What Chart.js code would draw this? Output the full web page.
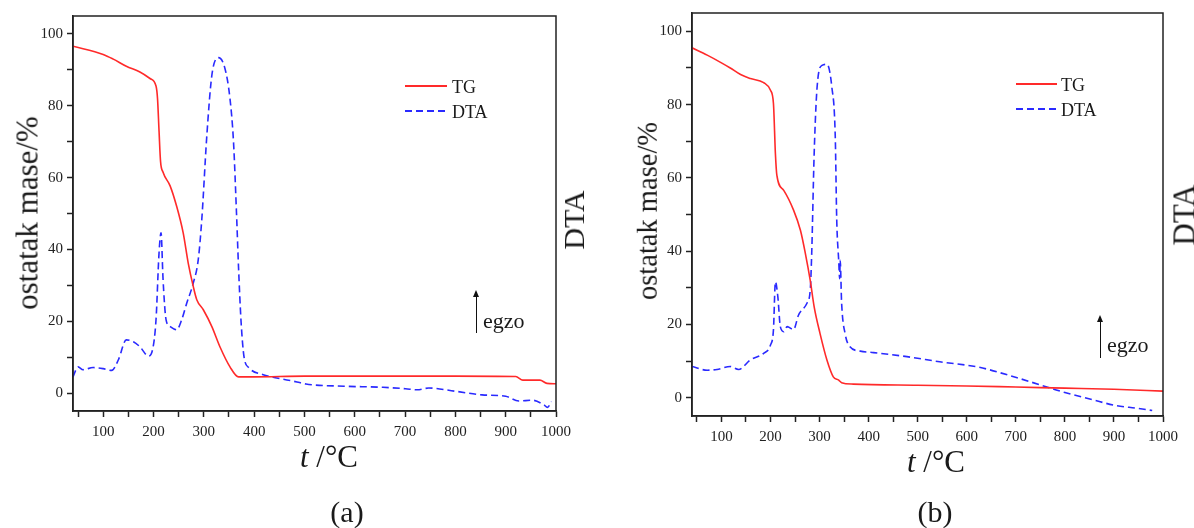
<!DOCTYPE html>
<html>
<head>
<meta charset="utf-8">
<script src="https://cdn.jsdelivr.net/npm/chart.js@4.4.0/dist/chart.umd.min.js"></script>
<style>
body { margin: 0; background: #fff; width: 1194px; height: 528px; overflow: hidden; position: relative;
       font-family: "Liberation Serif", "Times New Roman", serif; color: #1a1a1a; }
.panel { position: absolute; top: 0; height: 528px; }
.txt { position: absolute; white-space: nowrap; line-height: 1; transform: translate(-50%, -50%); }
.left { transform: translate(0, -50%); }
.rot { transform: translate(-50%, -50%) rotate(-90deg); }
.leg { position: absolute; height: 2px; }
.arrow { position: absolute; width: 0; border-left: 1.5px solid #111; }
.arrow:before { content: ""; position: absolute; left: -4px; top: -6px; border-left: 3.5px solid transparent;
                border-right: 3.5px solid transparent; border-bottom: 7px solid #111; }
</style>
</head>
<body>
<div class="panel" style="left:0;width:600px"><canvas id="chartA"></canvas></div>
<div class="panel" style="left:600px;width:594px"><canvas id="chartB"></canvas></div>

<!-- panel (a) texts -->
<div class="txt rot" style="left:27px;top:213px;font-size:31px">ostatak mase/%</div>
<div class="txt" style="left:329px;top:456px;font-size:31px"><i>t</i> /°C</div>
<div class="txt rot" style="left:574px;top:220px;font-size:30px">DTA</div>
<div class="arrow" style="left:476px;top:296px;height:37px"></div>
<div class="txt left" style="left:483px;top:321px;font-size:22px">egzo</div>
<div class="txt" style="left:347px;top:512px;font-size:30px">(a)</div>
<div class="leg" style="left:405px;top:85px;width:42px;background:#ff2a2a"></div>
<div class="txt left" style="left:452px;top:87px;font-size:18px">TG</div>
<div class="leg" style="left:405px;top:110px;width:42px;background:repeating-linear-gradient(to right,#2a2aff 0 7px,transparent 7px 11px)"></div>
<div class="txt left" style="left:452px;top:112px;font-size:18px">DTA</div>

<!-- panel (b) texts -->
<div class="txt rot" style="left:648px;top:211px;font-size:28.5px">ostatak mase/%</div>
<div class="txt" style="left:936px;top:461px;font-size:31px"><i>t</i> /°C</div>
<div class="txt rot" style="left:1184px;top:215px;font-size:31px">DTA</div>
<div class="arrow" style="left:1100px;top:321px;height:37px"></div>
<div class="txt left" style="left:1107px;top:345px;font-size:22px">egzo</div>
<div class="txt" style="left:935px;top:512px;font-size:30px">(b)</div>
<div class="leg" style="left:1016px;top:83px;width:41px;background:#ff2a2a"></div>
<div class="txt left" style="left:1061px;top:85px;font-size:18px">TG</div>
<div class="leg" style="left:1016px;top:108px;width:41px;background:repeating-linear-gradient(to right,#2a2aff 0 7px,transparent 7px 11px)"></div>
<div class="txt left" style="left:1061px;top:110px;font-size:18px">DTA</div>

<script>
// tick labels (major) and tick positions (major + minor)
var xTickLabels = [100, 200, 300, 400, 500, 600, 700, 800, 900, 1000];
var yTickLabels = [0, 20, 40, 60, 80, 100];
var xTickPos = [50, 100, 150, 200, 250, 300, 350, 400, 450, 500, 550, 600, 650, 700, 750, 800, 850, 900, 950, 1000];
var yTickPos = [0, 10, 20, 30, 40, 50, 60, 70, 80, 90, 100];

// panel (a) data
var tgTempA = [40, 100, 120, 146, 173, 193, 205, 208, 211, 214, 219, 233, 246, 259, 269, 279, 286, 299, 316, 332, 352, 369, 400, 500, 600, 700, 800, 920, 934, 968, 982, 1000];
var tgMassA = [96.6, 94.3, 93.0, 91.0, 89.4, 87.6, 85.5, 82, 73, 64.5, 61.5, 57.7, 52, 44.6, 36.2, 29.7, 26, 23.2, 18.5, 12.9, 7.3, 4.5, 4.5, 4.7, 4.7, 4.7, 4.7, 4.6, 3.6, 3.6, 2.7, 2.6];
var dtaTempA = [40, 50, 60, 80, 100, 117, 130, 146, 160, 173, 190, 198, 205, 211, 215, 219, 225, 233, 246, 256, 266, 279, 289, 296, 306, 316, 329, 342, 352, 359, 365, 369, 374, 380, 390, 418, 445, 485, 503, 579, 656, 701, 724, 747, 800, 853, 900, 926, 953, 976, 983, 991];
var dtaValA = [4.5, 7.3, 6.5, 7.1, 6.8, 6.3, 9.2, 14.8, 14.3, 12.9, 10.3, 12, 20.4, 39, 44.6, 31.6, 20.4, 18.5, 17.6, 20.4, 25, 30.6, 37.2, 48.4, 71.7, 88.5, 93.4, 90.4, 82, 70, 50, 35, 20, 10, 7, 5.1, 4.2, 3.1, 2.5, 1.9, 1.6, 1.2, 0.9, 1.4, 0.5, -0.5, -0.9, -2.2, -2, -3.3, -4, -2.4];

// panel (b) data
var tgTempB = [40, 71, 100, 118, 139, 159, 186, 200, 206, 210, 213, 227, 247, 261, 271, 281, 289, 301, 315, 328, 339, 345, 369, 500, 600, 700, 800, 900, 1000];
var tgMassB = [95.5, 93.5, 91.4, 90, 88.2, 87.1, 86, 83.9, 80.3, 66.6, 60.7, 56.6, 51.2, 45.7, 39.4, 32, 24.8, 17.5, 10.3, 5.7, 4.8, 4.1, 3.7, 3.4, 3.2, 2.9, 2.6, 2.3, 1.8];
var dtaTempB = [40, 71, 91, 118, 135, 159, 186, 200, 206, 210, 215, 220, 227, 234, 247, 257, 274, 281, 284, 289, 295, 305, 315, 325, 332, 335, 339, 341, 342, 345, 352, 362, 383, 410, 478, 545, 625, 701, 771, 800, 855, 902, 948, 978];
var dtaValB = [8.5, 7.5, 7.7, 8.5, 7.7, 10.3, 12.1, 14.4, 18.5, 31.6, 27.5, 19.4, 18, 19.4, 18.6, 22.5, 25.7, 29.4, 39.4, 66.6, 84.8, 90.7, 91, 84.8, 71.2, 48.5, 37.5, 32.5, 37.5, 25.7, 17.5, 13.9, 12.7, 12.3, 11.2, 9.8, 8.3, 5.5, 2.6, 1.4, -0.5, -2.1, -2.9, -3.5];

function points(xs, ys) {
    return xs.map(function (x, i) { return { x: x, y: ys[i] }; });
}

// box round the plot area
var framePlugin = {
    id: 'frame',
    afterDraw: function (chart) {
        var a = chart.chartArea, ctx = chart.ctx;
        ctx.save();
        ctx.strokeStyle = '#222';
        ctx.lineWidth = 1.5;
        ctx.strokeRect(a.left, a.top, a.right - a.left, a.bottom - a.top);
        ctx.restore();
    }
};

var tickFont = { family: '"Liberation Serif", "Times New Roman", serif', size: 15 };

function axis(min, max, positions, labels, fit, pad) {
    return {
        type: 'linear',
        min: min,
        max: max,
        afterBuildTicks: function (s) {
            s.ticks = positions.map(function (v) { return { value: v }; });
        },
        afterFit: fit,
        ticks: {
            autoSkip: false,
            maxRotation: 0,
            padding: pad,
            color: '#222',
            font: tickFont,
            callback: function (v) { return labels.indexOf(v) >= 0 ? String(v) : ''; }
        },
        grid: { drawOnChartArea: false, tickLength: 6, tickColor: '#222', tickWidth: 1.5 },
        border: { color: '#222', width: 1.5 }
    };
}

function makeChart(id, tgT, tgY, dtaT, dtaY, axisW, axisH, padTop, padRight) {
    var ctx = document.getElementById(id).getContext('2d');
    return new Chart(ctx, {
        type: 'line',
        data: {
            datasets: [{
                label: 'TG',
                data: points(tgT, tgY),
                borderColor: '#ff2a2a',
                borderWidth: 1.6,
                pointRadius: 0,
                cubicInterpolationMode: 'monotone'
            }, {
                label: 'DTA',
                data: points(dtaT, dtaY),
                borderColor: '#2a2aff',
                borderWidth: 1.6,
                borderDash: [7, 4],
                pointRadius: 0,
                cubicInterpolationMode: 'monotone'
            }]
        },
        options: {
            responsive: true,
            maintainAspectRatio: false,
            animation: false,
            layout: { padding: { top: padTop, right: padRight, left: 0, bottom: 0 } },
            plugins: { legend: { display: false }, tooltip: { enabled: false } },
            scales: {
                x: axis(40, 1000, xTickPos, xTickLabels, function (s) { s.height = axisH; }, 6),
                y: axis(-5, 105, yTickPos, yTickLabels, function (s) { s.width = axisW; }, 4)
            }
        },
        plugins: [framePlugin]
    });
}

makeChart('chartA', tgTempA, tgMassA, dtaTempA, dtaValA, 73, 117, 16, 44);
makeChart('chartB', tgTempB, tgMassB, dtaTempB, dtaValB, 92, 112, 13, 31);
</script>
</body>
</html>
